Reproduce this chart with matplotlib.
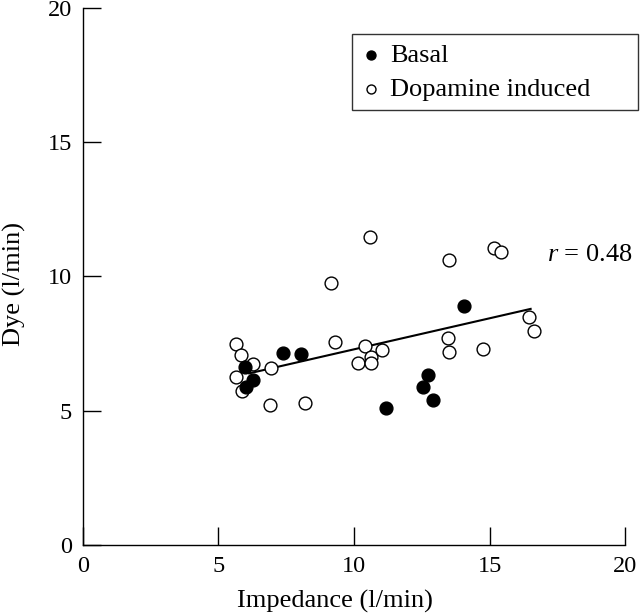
import numpy as np
import matplotlib
matplotlib.use('Agg')
import matplotlib.pyplot as plt

plt.rcParams['font.family'] = ['Liberation Serif', 'DejaVu Serif']
plt.rcParams['mathtext.fontset'] = 'custom'
plt.rcParams['mathtext.rm'] = 'Liberation Serif'
plt.rcParams['mathtext.it'] = 'Liberation Serif:italic'

# basal measurements (impedance, dye)
basal_x = [5.98, 6.28, 6.01, 7.39, 8.03, 11.18, 12.55, 12.73, 12.90, 14.06]
basal_y = [6.64, 6.15, 5.87, 7.14, 7.11, 5.11, 5.90, 6.33, 5.40, 8.90]

# dopamine induced measurements
dopa_x = [5.65, 5.82, 6.28, 5.63, 5.86, 6.92, 6.90, 8.20, 9.14, 9.30,
          10.59, 10.14, 10.39, 10.62, 10.62, 11.03, 13.49, 13.46, 13.51, 14.76,
          15.16, 15.42, 16.45, 16.63]
dopa_y = [7.49, 7.09, 6.74, 6.25, 5.75, 6.60, 5.21, 5.30, 9.77, 7.57,
          11.46, 6.79, 7.39, 6.99, 6.77, 7.26, 10.61, 7.71, 7.19, 7.31,
          11.07, 10.91, 8.50, 7.98]

# regression line ends
fit_x = [6.13, 16.51]
fit_y = [6.39, 8.79]

ticks = [0, 5, 10, 15, 20]

fig = plt.figure(figsize=(6.4, 6.16), dpi=100)
ax = fig.add_axes([0.1295, 0.1153, 0.8475, 0.872])

ax.plot(fit_x, fit_y, color='black', linewidth=1.5, zorder=2)
ax.scatter(dopa_x, dopa_y, s=85, facecolors='white', edgecolors='black',
           linewidths=1.0, label='Dopamine induced', zorder=3)
ax.scatter(basal_x, basal_y, s=85, facecolors='black', edgecolors='black',
           linewidths=1.0, label='Basal', zorder=4)

ax.set_xlim(0, 20)
ax.set_ylim(0, 20)
ax.set_xticks(ticks)
ax.set_yticks(ticks)
ax.tick_params(direction='in', length=13, width=1, labelsize=17.5, pad=8)
ax.spines['top'].set_visible(False)
ax.spines['right'].set_visible(False)
for s in ['left', 'bottom']:
    ax.spines[s].set_linewidth(1.0)

ax.set_xlabel('Impedance (l/min)', fontsize=19)
ax.xaxis.set_label_coords(0.465, -0.083)
ax.set_ylabel('Dye (l/min)', fontsize=19)
ax.yaxis.set_label_coords(-0.105, 0.486)

ax.text(17.1, 10.8, '$r$ = 0.48', fontsize=19, va='center', ha='left')

handles, labels = ax.get_legend_handles_labels()
leg = ax.legend(handles[::-1], labels[::-1], loc='upper left', mode='expand',
                bbox_to_anchor=(352 / 640, 1 - 109 / 616, 286 / 640, 75 / 616),
                bbox_transform=fig.transFigure, borderaxespad=0,
                fontsize=19, frameon=True, fancybox=False, edgecolor='black',
                handletextpad=0.34, handlelength=0.75, borderpad=0.35,
                labelspacing=0.4, markerscale=0.7)
leg.get_frame().set_linewidth(1.0)

fig.savefig('out.png', dpi=100)
